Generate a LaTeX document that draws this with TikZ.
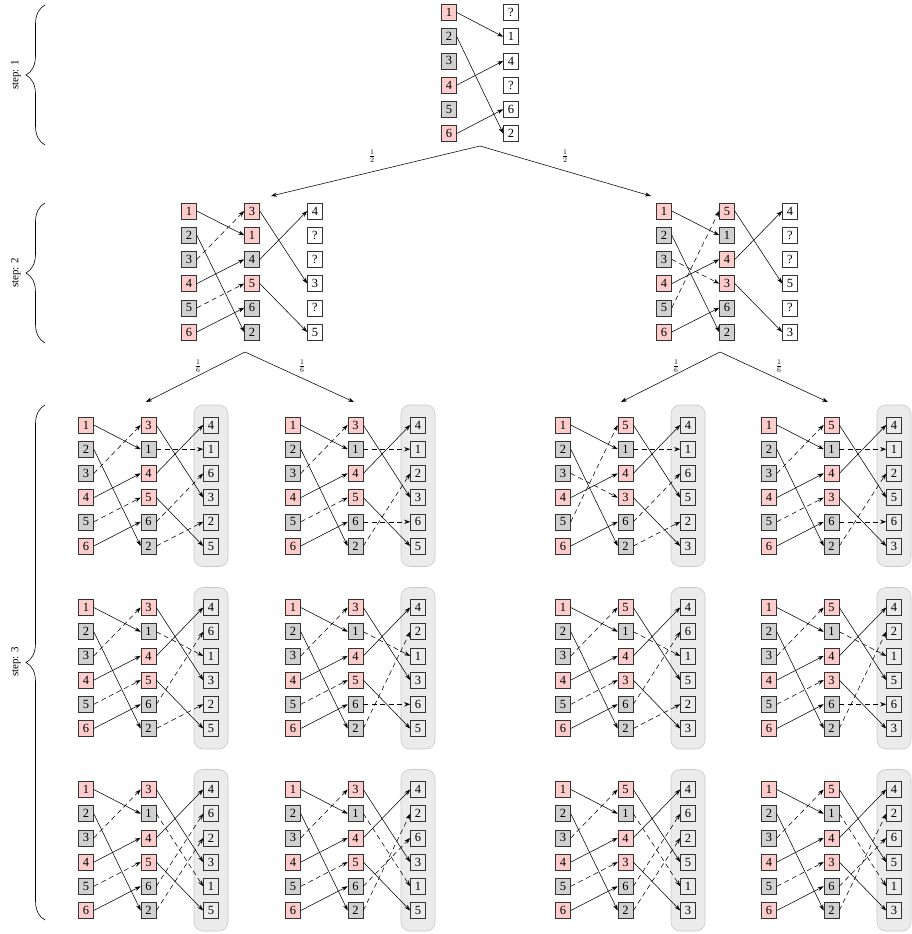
\documentclass[tikz,border=0pt]{standalone}
\usepackage{fontspec}
\setmainfont{Liberation Serif}
\usetikzlibrary{arrows.meta,decorations.pathreplacing}
\colorlet{pk}{red!20}
\colorlet{gr}{black!18}
\tikzset{
  bx/.style={draw=black!80, line width=0.6pt, minimum width=15pt, minimum height=16pt, inner sep=0pt, font=\fontsize{12.5}{13}\selectfont},
  ar/.style={-{Stealth[length=6pt,width=4.2pt]}, line width=0.55pt},
  dsh/.style={dash pattern=on 5pt off 3.5pt},
  panelbg/.style={fill=black!8, draw=black!22, line width=0.6pt, rounded corners=9pt},
  brc/.style={decorate, decoration={brace, amplitude=19pt}, line width=0.6pt},
  frac/.style={font=\fontsize{10.5}{11}\selectfont},
  steplab/.style={rotate=90, font=\fontsize{11}{11}\selectfont}
}
\newcommand\leftcolumn[3]{%
  \foreach \l/\c [count=\i] in {1/pk,2/gr,3/gr,4/pk,5/gr,6/pk}
    \node[bx,fill=\c] (#1a\i) at ({#2},{#3+24.2*(\i-1)}) {\l};}
\newcommand\pthree[7]{%
  \draw[panelbg] ({#2+125-17},{#3-20}) rectangle ({#2+125+17},{#3+141.5});
  \leftcolumn{#1}{#2}{#3}
  \foreach \l/\c [count=\i] in {#4}
    \node[bx,fill=\c] (#1b\i) at ({#2+62.5},{#3+24.2*(\i-1)}) {\l};
  \foreach \l [count=\i] in {#5}
    \node[bx] (#1c\i) at ({#2+125},{#3+24.2*(\i-1)}) {\l};
  \foreach \s/\t in {1/2,2/6,4/3,6/5} \draw[ar] (#1a\s.east) -- (#1b\t.west);
  \foreach \s/\t in {#6} \draw[ar,dsh] (#1a\s.east) -- (#1b\t.west);
  \foreach \s/\t in {1/4,3/1,4/6} \draw[ar] (#1b\s.east) -- (#1c\t.west);
  \foreach \s/\t in {#7} \draw[ar,dsh] (#1b\s.east) -- (#1c\t.west);
}
\newcommand\ptwo[6]{%
  \leftcolumn{#1}{#2}{#3}
  \foreach \l/\c [count=\i] in {#4}
    \node[bx,fill=\c] (#1b\i) at ({#2+63},{#3+24.2*(\i-1)}) {\l};
  \foreach \l [count=\i] in {#5}
    \node[bx,fill=white] (#1c\i) at ({#2+126},{#3+24.2*(\i-1)}) {\l};
  \foreach \s/\t in {1/2,2/6,4/3,6/5} \draw[ar] (#1a\s.east) -- (#1b\t.west);
  \foreach \s/\t in {#6} \draw[ar,dsh] (#1a\s.east) -- (#1b\t.west);
  \foreach \s/\t in {1/4,3/1,4/6} \draw[ar] (#1b\s.east) -- (#1c\t.west);
}
\begin{document}
\begin{tikzpicture}[x=1pt,y=-1pt]
\useasboundingbox (0,0) rectangle (912,934);
% braces and step labels
\coordinate (b1s) at (45,145); \coordinate (b1e) at (45,5);
\coordinate (b2s) at (45,343); \coordinate (b2e) at (45,203);
\coordinate (b3s) at (45,920); \coordinate (b3e) at (45,405);
\draw[brc] (b1s) -- (b1e);
\draw[brc] (b2s) -- (b2e);
\draw[brc] (b3s) -- (b3e);
\node[steplab] (s1) at (16,75) {step: 1};
\node[steplab] (s2) at (16,273) {step: 2};
\node[steplab] (s3) at (16,662) {step: 3};
% step 1
\leftcolumn{S}{449}{12.5}
\foreach \l [count=\i] in {?,1,4,?,6,2}
  \node[bx,fill=white] (Sc\i) at (511,{12.5+24.2*(\i-1)}) {\l};
\foreach \s/\t in {1/2,2/6,4/3,6/5} \draw[ar] (Sa\s.east) -- (Sc\t.west);
% step 2
\ptwo{L}{189}{211}{3/pk,1/pk,4/gr,5/pk,6/gr,2/gr}{4,?,?,3,?,5}{3/1,5/4}
\ptwo{R}{664}{211}{5/pk,1/gr,4/pk,3/pk,6/gr,2/gr}{4,?,?,5,?,3}{3/4,5/1}
% tree connectors
\coordinate (t0) at (480,146);
\coordinate (t0l) at (271,196);
\coordinate (t0r) at (651,196);
\draw[ar] (t0) -- (t0l);
\draw[ar] (t0) -- (t0r);
\node[frac] (h1) at (372,156) {$\frac{1}{2}$};
\node[frac] (h2) at (565,156) {$\frac{1}{2}$};
\coordinate (tl) at (245,352);
\coordinate (tll) at (146,402);
\coordinate (tlr) at (354,402);
\coordinate (tr) at (720,352);
\coordinate (trl) at (621,402);
\coordinate (trr) at (828,402);
\draw[ar] (tl) -- (tll);
\draw[ar] (tl) -- (tlr);
\draw[ar] (tr) -- (trl);
\draw[ar] (tr) -- (trr);
\node[frac] (f1) at (198,366) {$\frac{1}{6}$};
\node[frac] (f2) at (302,366) {$\frac{1}{6}$};
\node[frac] (f3) at (676,366) {$\frac{1}{6}$};
\node[frac] (f4) at (779,366) {$\frac{1}{6}$};
% step 3, row 1
\pthree{Aa}{86}{425}{3/pk,1/gr,4/pk,5/pk,6/gr,2/gr}{4,1,6,3,2,5}{3/1,5/4}{2/2,5/3,6/5}
\pthree{Ba}{293}{425}{3/pk,1/gr,4/pk,5/pk,6/gr,2/gr}{4,1,2,3,6,5}{3/1,5/4}{2/2,5/5,6/3}
\pthree{Ca}{563}{425}{5/pk,1/gr,4/pk,3/pk,6/gr,2/gr}{4,1,6,5,2,3}{3/4,5/1}{2/2,5/3,6/5}
\pthree{Da}{769}{425}{5/pk,1/gr,4/pk,3/pk,6/gr,2/gr}{4,1,2,5,6,3}{3/1,5/4}{2/2,5/5,6/3}
% row 2
\pthree{Ab}{86}{607.5}{3/pk,1/gr,4/pk,5/pk,6/gr,2/gr}{4,6,1,3,2,5}{3/1,5/4}{2/3,5/2,6/5}
\pthree{Bb}{293}{607.5}{3/pk,1/gr,4/pk,5/pk,6/gr,2/gr}{4,2,1,3,6,5}{3/1,5/4}{2/3,5/5,6/2}
\pthree{Cb}{563}{607.5}{5/pk,1/gr,4/pk,3/pk,6/gr,2/gr}{4,6,1,5,2,3}{3/1,5/4}{2/3,5/2,6/5}
\pthree{Db}{769}{607.5}{5/pk,1/gr,4/pk,3/pk,6/gr,2/gr}{4,2,1,5,6,3}{3/1,5/4}{2/3,5/5,6/2}
% row 3
\pthree{Ac}{86}{789.5}{3/pk,1/gr,4/pk,5/pk,6/gr,2/gr}{4,6,2,3,1,5}{3/1,5/4}{2/5,5/2,6/3}
\pthree{Bc}{293}{789.5}{3/pk,1/gr,4/pk,5/pk,6/gr,2/gr}{4,2,6,3,1,5}{3/1,5/4}{2/5,5/3,6/2}
\pthree{Cc}{563}{789.5}{5/pk,1/gr,4/pk,3/pk,6/gr,2/gr}{4,6,2,5,1,3}{3/1,5/4}{2/5,5/2,6/3}
\pthree{Dc}{769}{789.5}{5/pk,1/gr,4/pk,3/pk,6/gr,2/gr}{4,2,6,5,1,3}{3/1,5/4}{2/5,5/3,6/2}
\end{tikzpicture}
\end{document}
